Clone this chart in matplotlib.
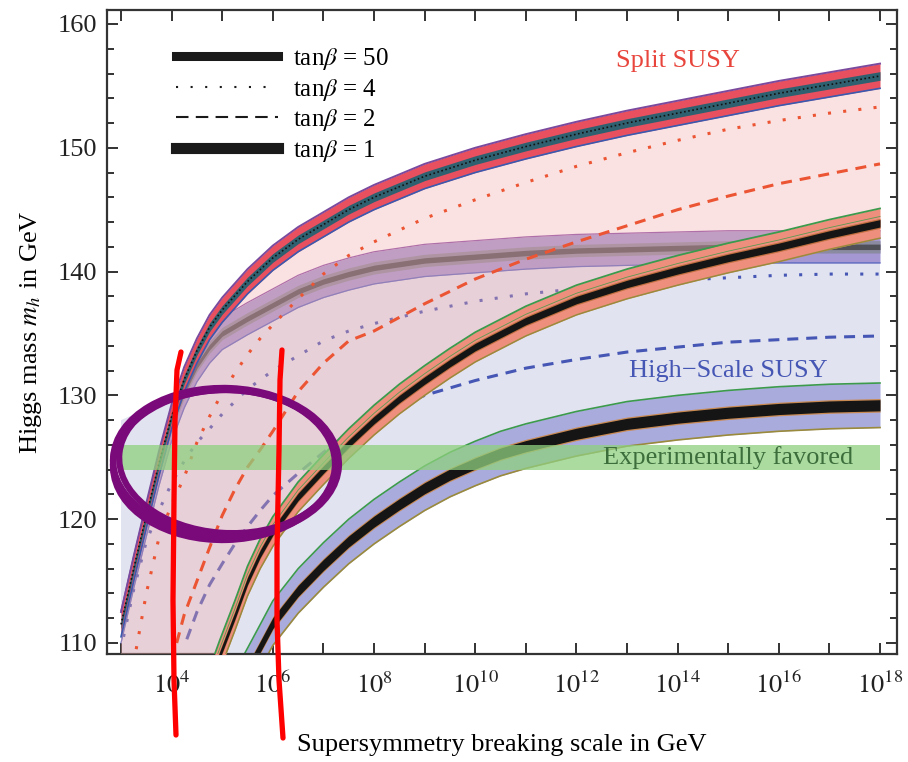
import numpy as np
import matplotlib
matplotlib.use('Agg')
import matplotlib.pyplot as plt
from matplotlib.patches import Ellipse
from matplotlib.lines import Line2D
from matplotlib.ticker import FixedLocator, MultipleLocator, NullLocator, FuncFormatter

plt.rcParams['font.family'] = ['Liberation Serif', 'DejaVu Serif']
plt.rcParams['mathtext.fontset'] = 'stix'

# SUSY breaking scale as log10(GeV), Higgs mass in GeV
split50_exp = [3.0, 3.25, 3.5, 3.75, 4.0, 4.25, 4.5, 4.75, 5.0, 5.5, 6.0, 6.5, 7.0, 7.5, 8.0,
               9.0, 10.0, 11.0, 12.0, 13.0, 14.0, 15.0, 16.0, 17.0, 18.0]
split50_mh = [111.5, 116.0, 120.3, 124.5, 128.3, 131.3, 133.6, 135.5, 136.9, 139.2, 141.1, 142.6, 143.8,
              145.0, 146.0, 147.7, 149.0, 150.1, 151.1, 152.0, 152.8, 153.6, 154.4, 155.1, 155.8]

hs50_exp = [3.0, 3.25, 3.5, 3.75, 4.0, 4.25, 4.5, 4.75, 5.0, 5.5, 6.0, 6.5, 7.0, 7.5, 8.0, 8.5,
            9.0, 10.0, 11.0, 12.0, 13.0, 14.0, 15.0, 16.0, 17.0, 18.0]
hs50_mh = [111.3, 115.7, 119.9, 124.0, 127.6, 130.3, 132.4, 133.9, 135.0, 136.2, 137.3, 138.4, 139.2,
           139.8, 140.3, 140.6, 140.9, 141.2, 141.5, 141.7, 141.8, 141.9, 142.0, 142.0, 142.0, 142.0]

split4_exp = [3.3, 3.5, 3.75, 4.0, 4.25, 4.5, 4.75, 5.0, 5.25, 5.5, 5.75, 6.0, 6.5, 7.0, 7.5, 8.0,
              9.0, 10.0, 11.0, 12.0, 13.0, 14.0, 15.0, 16.0, 17.0, 18.0]
split4_mh = [109.5, 114.0, 118.5, 121.2, 123.4, 126.2, 128.3, 130.2, 131.8, 133.3, 134.6, 135.7, 137.8,
             139.8, 141.3, 142.4, 144.3, 145.8, 147.2, 148.5, 149.6, 150.6, 151.5, 152.2, 152.8, 153.3]

split2_exp = [4.1, 4.25, 4.5, 4.75, 5.0, 5.25, 5.5, 5.75, 6.0, 6.5, 7.0, 7.5, 8.0, 9.0, 10.0,
              11.0, 12.0, 13.0, 14.0, 15.0, 16.0, 17.0, 18.0]
split2_mh = [110.0, 112.3, 115.0, 117.7, 120.3, 122.4, 124.2, 125.6, 127.1, 130.3, 132.6, 134.4, 135.2,
             137.4, 139.4, 141.0, 142.4, 143.7, 145.0, 146.1, 147.1, 147.9, 148.7]

split1_exp = [4.8, 4.95, 5.25, 5.5, 5.75, 6.0, 6.5, 7.0, 7.5, 8.0, 8.5, 9.0, 9.5, 10.0, 11.0, 12.0,
              13.0, 14.0, 15.0, 16.0, 17.0, 18.0]
split1_mh = [107.3, 109.0, 112.2, 115.0, 117.2, 119.0, 121.8, 124.0, 126.1, 128.0, 129.7, 131.2, 132.6,
             133.9, 136.0, 137.7, 139.0, 140.1, 141.1, 142.0, 143.0, 143.9]

hs4_exp = [3.05, 3.25, 3.5, 3.75, 4.0, 4.25, 4.5, 4.75, 5.0, 5.5, 6.0, 6.5, 7.0, 7.5, 8.0, 9.0,
           10.0, 11.0, 12.0, 13.0, 14.0, 15.0, 16.0, 17.0, 18.0]
hs4_mh = [110.5, 114.3, 118.2, 120.7, 122.9, 124.7, 126.2, 127.3, 128.5, 130.5, 132.0, 133.2, 134.4,
          135.2, 135.8, 136.8, 137.6, 138.2, 138.6, 139.0, 139.3, 139.5, 139.7, 139.8, 139.8]

hs2_exp = [4.3, 4.5, 4.75, 5.0, 5.25, 5.5, 5.75, 6.0, 6.5, 7.0, 7.5, 8.0, 8.5, 9.0, 10.0, 11.0,
           12.0, 13.0, 14.0, 15.0, 16.0, 17.0, 18.0]
hs2_mh = [110.3, 112.5, 114.7, 116.4, 118.0, 119.4, 120.7, 121.9, 123.7, 125.4, 126.9, 128.1, 129.1,
          130.0, 131.2, 132.2, 132.9, 133.5, 133.9, 134.3, 134.5, 134.7, 134.8]

hs1_exp = [5.45, 5.7, 6.0, 6.5, 7.0, 7.5, 8.0, 8.5, 9.0, 9.5, 10.0, 10.5, 11.0, 12.0, 13.0, 14.0,
           15.0, 16.0, 17.0, 18.0]
hs1_mh = [107.4, 109.3, 111.6, 114.2, 116.3, 118.2, 119.8, 121.2, 122.5, 123.6, 124.5, 125.3, 125.9,
          126.9, 127.7, 128.2, 128.6, 128.9, 129.1, 129.2]

hs_fill_cap = 128.0        # top of the High-Scale region at the left edge
exp_range = [3.0, 18.0]    # x extent of the shaded regions
favored = [124.0, 126.0]   # experimentally favoured Higgs mass window

legend_labels = [r'tan$\beta$ = 50', r'tan$\beta$ = 4', r'tan$\beta$ = 2', r'tan$\beta$ = 1']

W, H = 908, 762
fig = plt.figure(figsize=(W / 100, H / 100), dpi=100)
ax = fig.add_axes([107 / W, 108 / H, 790 / W, 644 / H])
ax.set_xscale('log')
ybot, ytop = 109.11, 161.13

split_red = '#ec5533'
hs_blue = '#4656b4'


def arr(e, m):
    return 10.0 ** np.array(e), np.array(m)


def band(e, m, layers, z):
    x, y = arr(e, m)
    for half, col in layers:
        ax.fill_between(x, y - half, y + half, color=col, lw=0, zorder=z)
    return x, y


# High-scale SUSY region
x50, y50 = arr(hs50_exp, hs50_mh)
x1, y1 = arr(hs1_exp, hs1_mh)
keep = y50 >= hs_fill_cap
px = np.concatenate([[10 ** exp_range[0]], x50[keep], x1[::-1], [x1[0], 10 ** exp_range[0]]])
py = np.concatenate([[hs_fill_cap], y50[keep], y1[::-1], [ybot, ybot]])
ax.fill(px, py, color='#e1e4f0', lw=0, zorder=1)

# High-scale curves
x, y = band(hs50_exp, hs50_mh, [(1.3, '#a497d2'), (0.5, '#8a8aa0'), (0.22, '#505058')], 2)
ax.plot(x, y + 1.3, color='#8a50a8', lw=0.9, zorder=2)
ax.plot(x, y - 1.3, color='#5a68c0', lw=0.9, zorder=2)
x, y = arr(hs4_exp, hs4_mh)
ax.plot(x, y, color=hs_blue, lw=2.2, ls=(0, (1, 4)), zorder=2)
x, y = arr(hs2_exp, hs2_mh)
ax.plot(x, y, color=hs_blue, lw=2.2, ls=(0, (3.6, 2.6)), zorder=2)
x, y = band(hs1_exp, hs1_mh, [(1.8, '#a9abdc'), (0.55, '#c98a52'), (0.45, '#151515')], 2)
ax.plot(x, y + 1.8, color='#3c9a4c', lw=1.2, zorder=2)
ax.plot(x, y - 1.8, color='#9a8a3c', lw=1.2, zorder=2)

# Split SUSY region
xs50, ys50 = arr(split50_exp, split50_mh)
xs1, ys1 = arr(split1_exp, split1_mh)
px = np.concatenate([xs50, xs1[::-1], [xs1[0], 10 ** exp_range[0]]])
py = np.concatenate([ys50, ys1[::-1], [ybot, ybot]])
ax.fill(px, py, color='#f6acac', alpha=0.35, lw=0, zorder=3)

# Split curves
x, y = arr(split4_exp, split4_mh)
ax.plot(x, y, color=split_red, lw=2.2, ls=(0, (1, 4)), zorder=4)
x, y = arr(split2_exp, split2_mh)
ax.plot(x, y, color=split_red, lw=2.2, ls=(0, (3.6, 2.6)), zorder=4)
x, y = band(split1_exp, split1_mh, [(1.2, '#ee8f7d'), (0.4, '#c07040'), (0.3, '#151515')], 4)
ax.plot(x, y + 1.2, color='#3c9a4c', lw=1.3, zorder=4)
ax.plot(x, y + 0.55, color='#5a9a50', lw=0.6, zorder=4)
ax.plot(x, y - 1.2, color='#9a8a3c', lw=1.1, zorder=4)
x, y = band(split50_exp, split50_mh, [(1.0, '#e8505f'), (0.35, '#2f6070')], 4)
ax.plot(x, y + 1.0, color='#7a4a9e', lw=1.4, zorder=4)
ax.plot(x, y - 1.0, color='#3a5ab0', lw=1.2, zorder=4)
ax.plot(x, y, color='#111111', lw=1.2, ls=(0, (1, 1.5)), zorder=4)

# Experimentally favoured window
ax.fill_between(10.0 ** np.array(exp_range), favored[0], favored[1],
                color='#8fd07f', alpha=0.75, lw=0, zorder=5)

ax.text(10 ** 14.0, 157.0, 'Split SUSY', color='#e8453c', fontsize=19,
        ha='center', va='center', zorder=6)
ax.text(10 ** 15.0, 132.0, 'High\u2212Scale SUSY', color='#4656b4', fontsize=19,
        ha='center', va='center', zorder=6)
ax.text(10 ** 15.0, 125.0, 'Experimentally favored', color='#3c6e3c', fontsize=19,
        ha='center', va='center', zorder=6)

handles = [Line2D([], [], color='#1a1a1a', lw=6.5),
           Line2D([], [], color='#1a1a1a', lw=1.5, ls=(0, (1, 6))),
           Line2D([], [], color='#1a1a1a', lw=1.5, ls=(0, (6, 3.5))),
           Line2D([], [], color='#1a1a1a', lw=8.0)]
ax.legend(handles, legend_labels, loc='upper left', bbox_to_anchor=(0.087, 0.944),
          frameon=False, fontsize=18, handlelength=4.1, handletextpad=0.6,
          labelspacing=0.18, borderpad=0, borderaxespad=0)

ax.set_xlim(10 ** 2.723, 10 ** 18.336)
ax.set_ylim(ybot, ytop)
ax.xaxis.set_major_locator(FixedLocator(10.0 ** np.arange(3, 19)))
ax.xaxis.set_minor_locator(NullLocator())


def xfmt(v, pos):
    k = int(round(np.log10(v)))
    return r'$10^{%d}$' % k if (k % 2 == 0 and k >= 4) else ''


ax.xaxis.set_major_formatter(FuncFormatter(xfmt))
ax.yaxis.set_major_locator(MultipleLocator(10))
ax.yaxis.set_minor_locator(MultipleLocator(2))
ax.tick_params(which='both', direction='in', top=True, right=True, width=1.3,
               colors='#222222', labelsize=19, pad=7)
ax.tick_params(axis='x', which='major', pad=13)
ax.tick_params(which='major', length=8)
ax.tick_params(which='minor', length=5)
for s in ax.spines.values():
    s.set_linewidth(1.6)
    s.set_color('#333333')

ax.set_xlabel('Supersymmetry breaking scale in GeV', fontsize=19, labelpad=26)
ax.set_ylabel(r'Higgs mass $m_h$ in GeV', fontsize=19, labelpad=10)

# hand-drawn marks on top of the figure (pixel positions)
def fx(p):
    return p / W


def fy(p):
    return 1 - p / H


for cx, cy, w, h, ang in [(226, 462, 226, 148, -3), (224, 465, 222, 150, 2),
                          (228, 461, 218, 144, -5), (225, 463, 224, 146, 0)]:
    fig.patches.append(Ellipse((fx(cx), fy(cy)), w / W, h / H, angle=ang, fill=False,
                               ec='#7a0a7a', lw=4.5, transform=fig.transFigure, zorder=10))

red1 = [(181, 352), (177, 370), (175, 420), (174, 500), (173, 600), (174, 680), (176, 735)]
red2 = [(282, 350), (280, 380), (279, 450), (277, 550), (277, 620), (279, 680), (283, 738)]
for pts in (red1, red2):
    fig.add_artist(Line2D([fx(p[0]) for p in pts], [fy(p[1]) for p in pts], color='#ff0000',
                          lw=3.8, solid_capstyle='round', transform=fig.transFigure, zorder=11))

fig.savefig('out.png', dpi=100)
